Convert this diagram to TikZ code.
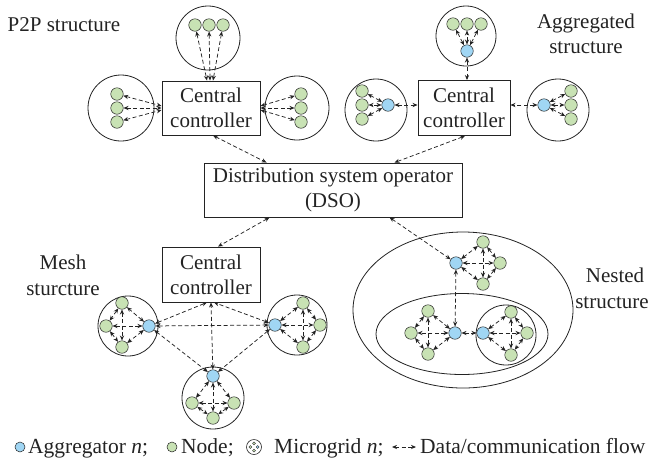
\documentclass[tikz,border=0pt]{standalone}
\usepackage{fontspec}
\setmainfont{Liberation Serif}
\usetikzlibrary{arrows.meta,calc}
\definecolor{nodegreen}{RGB}{200,226,180}
\definecolor{aggblue}{RGB}{160,214,244}
\definecolor{ink}{RGB}{35,35,35}

% all six links of a four-node microgrid: blue b, greens p, q, r
\newcommand\linkmesh[1]{%
  \foreach \a/\b in {b/p,b/q,b/r,p/q,q/r,p/r}{\draw[flow] (#1\a) -- (#1\b);}}

\begin{document}
\begin{tikzpicture}[x=1pt,y=-1pt,
  >={Stealth[length=5pt,width=4.2pt]},
  txt/.style={font=\fontsize{21}{25}\selectfont, inner sep=0pt, text=ink},
  legtxt/.style={font=\fontsize{21.5}{26}\selectfont, inner sep=0pt, text=ink, anchor=base west},
  ctrl/.style={draw=ink, line width=0.9pt, minimum width=98pt, minimum height=54pt,
               inner sep=0pt, align=center, text=ink, font=\fontsize{21}{25}\selectfont},
  gn/.style={circle, draw=ink, line width=0.5pt, fill=nodegreen, minimum size=12.5pt, inner sep=0pt},
  bn/.style={gn, fill=aggblue},
  mgc/.style={circle, draw=ink, line width=0.8pt, inner sep=0pt},
  flow/.style={<->, draw=ink, line width=0.75pt, dash pattern=on 4pt off 2.5pt}
]
\useasboundingbox (0,0) rectangle (650,459);

% ---------------- P2P structure ----------------
\node[txt, anchor=base] (lblp2p) at (64,31) {P2P structure};
\node[ctrl] (c1) at (211,108) {Central\\controller};

\node[mgc, minimum size=64pt] (p2pT) at (208,38) {};
\node[gn] (pt1) at (195,25) {};
\node[gn] (pt2) at (209,25) {};
\node[gn] (pt3) at (223,25) {};
\draw[flow] (pt1) -- ($(c1.north)+(-4,0)$);
\draw[flow] (pt2) -- ($(c1.north)+(-1,0)$);
\draw[flow] (pt3) -- ($(c1.north)+(2,0)$);

\node[mgc, minimum size=66pt] (p2pL) at (121,108) {};
\node[gn] (pl1) at (117,94) {};
\node[gn] (pl2) at (117,108) {};
\node[gn] (pl3) at (117,122) {};
\draw[flow] (pl1) -- ($(c1.west)+(0,-2)$);
\draw[flow] (pl2) -- (c1.west);
\draw[flow] (pl3) -- ($(c1.west)+(0,2)$);

\node[mgc, minimum size=64pt] (p2pR) at (297,108) {};
\node[gn] (pr1) at (301,94) {};
\node[gn] (pr2) at (301,108) {};
\node[gn] (pr3) at (301,122) {};
\draw[flow] (pr1) -- ($(c1.east)+(0,-2)$);
\draw[flow] (pr2) -- (c1.east);
\draw[flow] (pr3) -- ($(c1.east)+(0,2)$);

% ---------------- Aggregated structure ----------------
\node[txt, anchor=base] (lblagg1) at (586,28) {Aggregated};
\node[txt, anchor=base] (lblagg2) at (586,53) {structure};
\node[ctrl, minimum width=92pt, minimum height=55pt] (c2) at (464,108) {Central\\controller};

\node[mgc, minimum size=60pt] (aT) at (466,36) {};
\node[gn] (at1) at (453,24) {};
\node[gn] (at2) at (467,24) {};
\node[gn] (at3) at (481,24) {};
\node[bn] (atb) at (467,51) {};
\foreach \g in {at1,at2,at3}{\draw[flow] (atb) -- (\g);}
\draw[flow] (atb) -- (atb |- c2.north);

\node[mgc, minimum size=62pt] (aL) at (376,110) {};
\node[gn] (al1) at (362,91) {};
\node[gn] (al2) at (362,105) {};
\node[gn] (al3) at (362,119) {};
\node[bn] (alb) at (388,105) {};
\foreach \g in {al1,al2,al3}{\draw[flow] (alb) -- (\g);}
\draw[flow] (alb) -- (alb -| c2.west);

\node[mgc, minimum size=62pt] (aR) at (558,110) {};
\node[gn] (ar1) at (571,91) {};
\node[gn] (ar2) at (571,105) {};
\node[gn] (ar3) at (571,119) {};
\node[bn] (arb) at (544,105) {};
\foreach \g in {ar1,ar2,ar3}{\draw[flow] (arb) -- (\g);}
\draw[flow] (arb) -- (arb -| c2.east);

% ---------------- DSO ----------------
\node[ctrl, minimum width=258pt, minimum height=54pt] (dso) at (333,190)
  {Distribution system operator\\(DSO)};
\draw[flow] ($(c1.south)+(2,0)$) -- ($(dso.north west)+(63,0)$);
\draw[flow] ($(c2.south)+(1,0)$) -- ($(dso.north west)+(191,0)$);

% ---------------- Mesh structure ----------------
\node[txt, anchor=base] (lblmesh1) at (63,269) {Mesh};
\node[txt, anchor=base] (lblmesh2) at (63,295) {sturcture};
\node[ctrl, minimum height=55pt] (c3) at (211,274.5) {Central\\controller};
\draw[flow] ($(dso.south west)+(66,0)$) -- ($(c3.north)+(7,0)$);

\node[mgc, minimum size=60pt] (mL) at (128,326) {};
\node[bn] (mLb) at (149,326) {};
\node[gn] (mLp) at (122,303) {};
\node[gn] (mLq) at (106,326) {};
\node[gn] (mLr) at (122,347) {};
\linkmesh{mL}

\node[mgc, minimum size=60pt] (mR) at (297,325) {};
\node[bn] (mRb) at (275,325) {};
\node[gn] (mRp) at (303,303) {};
\node[gn] (mRq) at (320,325) {};
\node[gn] (mRr) at (303,347) {};
\linkmesh{mR}

\node[mgc, minimum size=62pt] (mB) at (213,398) {};
\node[bn] (mBb) at (213,376) {};
\node[gn] (mBp) at (192,403) {};
\node[gn] (mBq) at (234,403) {};
\node[gn] (mBr) at (213,418) {};
\linkmesh{mB}

\draw[flow] (mBb) -- (c3.south);
\draw[flow] (mLb) -- ($(c3.south)+(-4,0)$);
\draw[flow] (mRb) -- ($(c3.south)+(3,0)$);
\draw[flow] (mLb) -- (mRb);
\draw[flow] (mLb) -- (mBb);
\draw[flow] (mRb) -- (mBb);

% ---------------- Nested structure ----------------
\node[txt, anchor=base] (lblnest1) at (615,282) {Nested};
\node[txt, anchor=base] (lblnest2) at (612,308) {structure};
\draw[ink, line width=0.8pt] (463,310) ellipse [x radius=110pt, y radius=78pt];
\draw[ink, line width=0.8pt] (462,334) ellipse [x radius=86pt, y radius=40.5pt];

\node[bn] (n1b) at (456,263) {};
\node[gn] (n1p) at (483,242) {};
\node[gn] (n1q) at (500,263) {};
\node[gn] (n1r) at (483,284) {};
\linkmesh{n1}

\node[bn] (n2b) at (455,333) {};
\node[gn] (n2p) at (428,311) {};
\node[gn] (n2q) at (411,333) {};
\node[gn] (n2r) at (428,354) {};
\linkmesh{n2}

\node[mgc, minimum size=60pt] (n3) at (506,335) {};
\node[bn] (n3b) at (483,333) {};
\node[gn] (n3p) at (511,312) {};
\node[gn] (n3q) at (527,333) {};
\node[gn] (n3r) at (511,355) {};
\linkmesh{n3}

\draw[flow] (n1b) -- (n2b);
\draw[flow] (n2b) -- (n3b);
\draw[flow] ($(dso.south west)+(186,0)$) -- (n1b);

% ---------------- Legend ----------------
\node[bn, minimum size=10pt] (lg1) at (20,447) {};
\node[legtxt] (lt1) at (28,453) {Aggregator \textit{n};};
\node[gn, minimum size=10pt] (lg2) at (172,447) {};
\node[legtxt] (lt2) at (181,453) {Node;};
\node[mgc, minimum size=15pt, line width=0.6pt] (lg3) at (254,447) {};
\foreach \dx/\dy/\c in {0/-3.6/nodegreen,-3.6/0/nodegreen,3.6/0/aggblue,0/3.6/nodegreen}
  {\draw[ink, line width=0.35pt, fill=\c] ($(lg3.center)+(\dx,\dy)$) circle [radius=1.5pt];}
\node[legtxt] (lt3) at (274,453) {Microgrid \textit{n};};
\coordinate (la1) at (392,447);
\coordinate (la2) at (416,447);
\draw[flow] (la1) -- (la2);
\node[legtxt] (lt4) at (420,453) {Data/communication flow};
\end{tikzpicture}
\end{document}
